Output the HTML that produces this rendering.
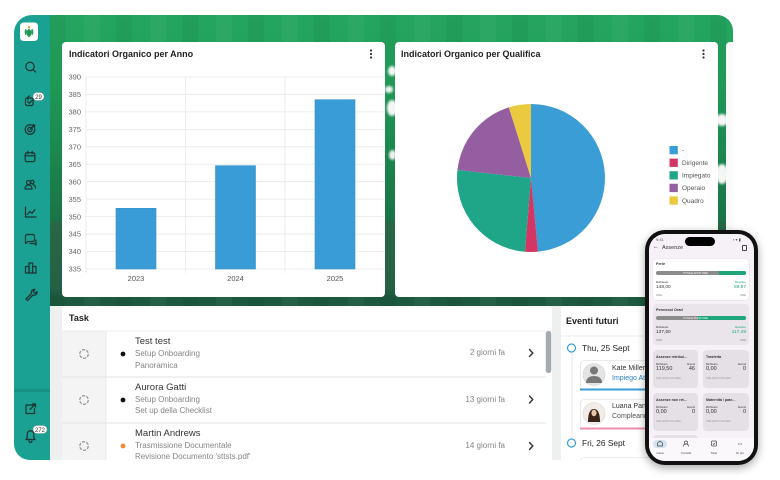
<!DOCTYPE html>
<html><head><meta charset="utf-8">
<style>
*{margin:0;padding:0;box-sizing:border-box}
html,body{width:780px;height:480px;overflow:hidden;background:#fff;font-family:"Liberation Sans",sans-serif}
.a{position:absolute}
.t{position:absolute;white-space:nowrap}
#app{position:absolute;left:0;top:0;width:780px;height:480px;clip-path:inset(15px 47px 20px 14px round 18px 16px 16px 16px)}
.card{position:absolute;background:#fff;border-radius:4px}
.nm{font-size:9.5px;line-height:11px;color:#333}
.sb{font-size:8px;line-height:10px;color:#858585}
.tm{font-size:8px;line-height:10px;color:#858585;text-align:right;width:90px}
.ph{font-family:"Liberation Sans",sans-serif;color:#333}
</style></head><body>
<div id="app">
  <!-- green header bg -->
  <div class="a" style="left:50px;top:15px;width:683px;height:291px;background:
    repeating-linear-gradient(90deg,rgba(0,0,0,.05) 0 16px,rgba(0,0,0,0) 16px 34px,rgba(255,255,255,.04) 34px 50px,rgba(0,0,0,0) 50px 66px),
    linear-gradient(180deg,#24a55f 0,#21a05a 25%,#1d9053 45%,#1b7a4a 70%,#2b6b4a 72%,#28664a 94%,#1b5a3e 97%,#1b5a3e 100%)"></div>
  <!-- white blobs -->
  <div class="a" style="left:388px;top:66px;width:8px;height:10px;border-radius:50%;background:#f4f7f5;filter:blur(1px)"></div>
  <div class="a" style="left:385px;top:86px;width:8px;height:7px;border-radius:50%;background:#eef3f0;filter:blur(1px)"></div>
  <div class="a" style="left:387px;top:100px;width:10px;height:16px;border-radius:50%;background:#f4f7f5;filter:blur(1px)"></div>
  <div class="a" style="left:389px;top:150px;width:7px;height:10px;border-radius:50%;background:#eef3f0;filter:blur(1px)"></div>
  <div class="a" style="left:716px;top:114px;width:12px;height:12px;border-radius:50%;background:#f4f7f5;filter:blur(1px)"></div>
  <div class="a" style="left:716px;top:164px;width:12px;height:20px;border-radius:50%;background:#f4f7f5;filter:blur(1px)"></div>
  <!-- bottom grey -->
  <div class="a" style="left:50px;top:306px;width:683px;height:160px;background:#eeefef"></div>
  <!-- sidebar -->
  <div class="a" style="left:14px;top:15px;width:36px;height:450px;background:#1ba193"></div>
  <div class="a" style="left:14px;top:389px;width:36px;height:3px;background:#179184"></div>

  <!-- cards -->
  <div class="card" style="left:62px;top:42px;width:323px;height:255px"></div>
  <div class="card" style="left:395px;top:42px;width:323px;height:255px"></div>
  <div class="card" style="left:726px;top:42px;width:12px;height:255px;background:#fafafa"></div>
  <div class="t" style="left:69px;top:49px;font-size:9px;line-height:10px;font-weight:bold;color:#222">Indicatori Organico per Anno</div>
  <div class="t" style="left:401px;top:49px;font-size:9px;line-height:10px;font-weight:bold;color:#222">Indicatori Organico per Qualifica</div>

  <div class="card" style="left:62px;top:306px;width:490px;height:170px;border-radius:3px"></div>
  <div class="card" style="left:561px;top:306px;width:110px;height:170px;border-radius:3px"></div>

  <svg class="a" style="left:0;top:0" width="780" height="480" viewBox="0 0 780 480">
    <!-- kebabs -->
    <g fill="#333"><circle cx="371" cy="50.5" r="1.1"/><circle cx="371" cy="54" r="1.1"/><circle cx="371" cy="57.5" r="1.1"/>
    <circle cx="703.5" cy="50.5" r="1.1"/><circle cx="703.5" cy="54" r="1.1"/><circle cx="703.5" cy="57.5" r="1.1"/></g>
    <!-- bar grid -->
    <g stroke="#e7e7e7" stroke-width="0.8">
      <line x1="86" x2="384" y1="77" y2="77"/><line x1="86" x2="384" y1="94.45" y2="94.45"/>
      <line x1="86" x2="384" y1="111.9" y2="111.9"/><line x1="86" x2="384" y1="129.35" y2="129.35"/>
      <line x1="86" x2="384" y1="146.8" y2="146.8"/><line x1="86" x2="384" y1="164.25" y2="164.25"/>
      <line x1="86" x2="384" y1="181.7" y2="181.7"/><line x1="86" x2="384" y1="199.15" y2="199.15"/>
      <line x1="86" x2="384" y1="216.6" y2="216.6"/><line x1="86" x2="384" y1="234.05" y2="234.05"/>
      <line x1="86" x2="384" y1="251.5" y2="251.5"/><line x1="86" x2="384" y1="269" y2="269"/>
      <line x1="86" x2="86" y1="77" y2="273"/><line x1="185.5" x2="185.5" y1="77" y2="273"/>
      <line x1="285" x2="285" y1="77" y2="273"/>
    </g>
    <g font-family="Liberation Sans, sans-serif" font-size="7.5" fill="#666" text-anchor="end">
      <text x="81" y="79.7">390</text><text x="81" y="97.1">385</text><text x="81" y="114.6">380</text>
      <text x="81" y="132">375</text><text x="81" y="149.5">370</text><text x="81" y="166.9">365</text>
      <text x="81" y="184.4">360</text><text x="81" y="201.8">355</text><text x="81" y="219.3">350</text>
      <text x="81" y="236.7">345</text><text x="81" y="254.2">340</text><text x="81" y="271.6">335</text>
    </g>
    <g fill="#3a9cd6" stroke="#3591c9" stroke-width="0.6">
      <rect x="116" y="208.3" width="40" height="60.7"/>
      <rect x="215.5" y="165.7" width="40" height="103.3"/>
      <rect x="315" y="99.7" width="40" height="169.3"/>
    </g>
    <g font-family="Liberation Sans, sans-serif" font-size="7.5" fill="#555" text-anchor="middle">
      <text x="136" y="281">2023</text><text x="235.5" y="281">2024</text><text x="335" y="281">2025</text>
    </g>
    <!-- pie -->
    <path d="M531,178 L531,104 A74,74 0 0 1 537.96,251.67 Z" fill="#3a9dd6"/>
    <path d="M531,178 L537.96,251.67 A74,74 0 0 1 524.94,251.75 Z" fill="#d33664"/>
    <path d="M531,178 L524.94,251.75 A74,74 0 0 1 457.43,170.01 Z" fill="#1fa688"/>
    <path d="M531,178 L457.43,170.01 A74,74 0 0 1 508.87,107.39 Z" fill="#955ea0"/>
    <path d="M531,178 L508.87,107.39 A74,74 0 0 1 531,104 Z" fill="#ebca3f"/>
    <g>
      <rect x="669.5" y="146" width="8.3" height="8.3" fill="#3a9dd6"/>
      <rect x="669.5" y="158.6" width="8.3" height="8.3" fill="#d33664"/>
      <rect x="669.5" y="171.2" width="8.3" height="8.3" fill="#1fa688"/>
      <rect x="669.5" y="183.8" width="8.3" height="8.3" fill="#955ea0"/>
      <rect x="669.5" y="196.4" width="8.3" height="8.3" fill="#ebca3f"/>
    </g>
    <g font-family="Liberation Sans, sans-serif" font-size="6.5" fill="#555">
      <text x="682" y="152.5">-</text><text x="682" y="165">Dirigente</text><text x="682" y="177.6">Impiegato</text>
      <text x="682" y="190.2">Operaio</text><text x="682" y="202.8">Quadro</text>
    </g>

    <!-- sidebar logo & icons -->
    <rect x="20" y="22.5" width="18" height="18.5" rx="3.5" fill="#fff"/>
    <g fill="#1f9a55"><ellipse cx="29" cy="33" rx="2.2" ry="4"/><ellipse cx="25.8" cy="32" rx="1.1" ry="3"/><ellipse cx="32.2" cy="32" rx="1.1" ry="3"/><circle cx="29" cy="27.3" r="1.2" fill="#c7a227"/></g>
    <g fill="none" stroke="#1b3533" stroke-width="1.25" stroke-linecap="round" stroke-linejoin="round">
      <circle cx="30" cy="66.5" r="4.2"/><line x1="33" y1="69.5" x2="35.5" y2="72"/>
      <rect x="25.5" y="98" width="7.5" height="7.5" rx="1.5"/><path d="M28 100 v-2.5 a1.5 1.5 0 0 1 1.5-1.5h0"/><path d="M27.8 101.8 l1.5 1.5 2.6-3"/>
      <circle cx="30" cy="129.5" r="4.8"/><circle cx="30" cy="129.5" r="2.2"/><path d="M30 129.5 l4.5-4.5 M33.5 124.5 v1.5 h1.5"/>
      <rect x="25.2" y="152.8" width="9.6" height="8.8" rx="1.6"/><line x1="25.2" y1="155.8" x2="34.8" y2="155.8"/><line x1="27.8" y1="151.3" x2="27.8" y2="153.6"/><line x1="32.2" y1="151.3" x2="32.2" y2="153.6"/>
      <circle cx="28.5" cy="182.5" r="2"/><path d="M25 189 c0-2.8 1.6-4 3.5-4 s3.5 1.2 3.5 4 z"/><circle cx="32.3" cy="182" r="1.7"/><path d="M33 184.7 c1.6.2 2.5 1.4 2.5 3.6"/>
      <path d="M25.5 207 v10 h10.5"/><path d="M27.3 214.5 l2.6-3 2 1.8 3-3.6"/>
      <path d="M25.5 236 a1.5 1.5 0 0 1 1.5-1.5 h6 a1.5 1.5 0 0 1 1.5 1.5 v4 a1.5 1.5 0 0 1-1.5 1.5 h-5 l-2.5 2 z"/><path d="M30 243.5 h4.5 l1.5 1.5 v-5"/>
      <rect x="29" y="263" width="3.6" height="10"/><rect x="25.5" y="266.5" width="3.5" height="6.5"/><rect x="32.6" y="266.5" width="3.4" height="6.5"/>
      <path d="M26 299 l5.5-5.5 a3 3 0 0 1 3.5-4 l-1.8 1.8 .8 1.2 1.2.8 1.8-1.8 a3 3 0 0 1-4 3.5 l-5.5 5.5 z"/>
      <path d="M33 405 h-7 v8.5 h8.5 v-5"/><path d="M30 409.5 l5.5-5.5 M32.5 404 h3 v3"/>
      <path d="M26 439.5 h9 l-1.2-2 v-3.5 a3.3 3.3 0 0 0-6.6 0 v3.5 z"/><path d="M29 441 a1.5 1.5 0 0 0 3 0"/>
    </g>
    <rect x="33" y="92.5" width="11" height="8" rx="4" fill="#fff" stroke="#888" stroke-width="0.4"/>
    <text x="38.5" y="98.8" font-family="Liberation Sans, sans-serif" font-size="6" fill="#333" text-anchor="middle">29</text>
    <rect x="33" y="425.5" width="14" height="8" rx="4" fill="#fff" stroke="#888" stroke-width="0.4"/>
    <text x="40" y="431.8" font-family="Liberation Sans, sans-serif" font-size="6" fill="#333" text-anchor="middle">272</text>

    <!-- task panel structure -->
    <rect x="62" y="331" width="44" height="135" fill="#f4f4f4"/>
    <line x1="106" y1="331" x2="106" y2="466" stroke="#e2e2e2" stroke-width="0.8"/>
    <line x1="62" y1="331" x2="552" y2="331" stroke="#e6e6e6" stroke-width="0.8"/>
    <line x1="62" y1="377" x2="546" y2="377" stroke="#e2e2e2" stroke-width="0.9"/>
    <line x1="62" y1="423" x2="546" y2="423" stroke="#e2e2e2" stroke-width="0.9"/>
    <rect x="545.8" y="331" width="5.5" height="42" rx="2.7" fill="#a4aab2"/>
    <g fill="none" stroke="#9a9a9a" stroke-width="1.3" stroke-dasharray="3.2 1.3">
      <circle cx="84" cy="354" r="4.3"/><circle cx="84" cy="400" r="4.3"/><circle cx="84" cy="446" r="4.3"/>
    </g>
    <circle cx="123" cy="354" r="2.4" fill="#111"/>
    <circle cx="123" cy="400" r="2.4" fill="#111"/>
    <circle cx="123" cy="446" r="2.4" fill="#f08a3c"/>
    <g fill="none" stroke="#333" stroke-width="1.4" stroke-linecap="round" stroke-linejoin="round">
      <path d="M529.5 349.5 l3.3 3.5 -3.3 3.5"/><path d="M529.5 396 l3.3 3.5 -3.3 3.5"/><path d="M529.5 442.5 l3.3 3.5 -3.3 3.5"/>
    </g>

    <!-- eventi -->
    <line x1="561" y1="336" x2="671" y2="336" stroke="#e6e6e6" stroke-width="0.8"/>
    <line x1="572" y1="353" x2="572" y2="438" stroke="#e0e0e0" stroke-width="0.8"/>
    <circle cx="571.5" cy="348" r="4" fill="#fff" stroke="#3a9dd6" stroke-width="1.2"/>
    <circle cx="571.5" cy="443" r="4" fill="#fff" stroke="#3a9dd6" stroke-width="1.2"/>
    <rect x="580.5" y="360.5" width="90" height="29.5" rx="4" fill="#fff" stroke="#e4e4e4" stroke-width="0.8"/>
    <rect x="580" y="388.5" width="90" height="2" fill="#3a9dd6"/>
    <rect x="580.5" y="399.5" width="90" height="29.5" rx="4" fill="#fff" stroke="#e4e4e4" stroke-width="0.8"/>
    <rect x="580" y="427.5" width="90" height="2" fill="#ec8fae"/>
    <rect x="580.5" y="457.5" width="90" height="20" rx="4" fill="#fff" stroke="#e4e4e4" stroke-width="0.8"/>
    <circle cx="594" cy="374.5" r="11" fill="#e4e4e4" stroke="#d0d0d0" stroke-width="0.6"/>
    <circle cx="594" cy="370.5" r="4" fill="#777"/>
    <path d="M586 383 c0-5 3.5-7 8-7 s8 2 8 7 z" fill="#777"/>
    <circle cx="594" cy="413.5" r="11" fill="#f2ece8" stroke="#d6d6d6" stroke-width="0.6"/>
    <path d="M588 422 c0-6 1-13 6-13 s6 7 6 13 z" fill="#3a2418"/>
    <ellipse cx="594" cy="413" rx="2.6" ry="3.2" fill="#e9c3a8"/>
  </svg>

  <!-- task texts -->
  <div class="t" style="left:69px;top:313px;font-size:9px;line-height:10px;font-weight:bold;color:#222">Task</div>
  <div class="t nm" style="left:135px;top:336px">Test test</div>
  <div class="t sb" style="left:135px;top:349px">Setup Onboarding</div>
  <div class="t sb" style="left:135px;top:360.5px">Panoramica</div>
  <div class="t tm" style="left:415px;top:348px">2 giorni fa</div>

  <div class="t nm" style="left:135px;top:382.2px">Aurora Gatti</div>
  <div class="t sb" style="left:135px;top:394.7px">Setup Onboarding</div>
  <div class="t sb" style="left:135px;top:406px">Set up della Checklist</div>
  <div class="t tm" style="left:415px;top:394.7px">13 giorni fa</div>

  <div class="t nm" style="left:135px;top:428.2px">Martin Andrews</div>
  <div class="t sb" style="left:135px;top:441px">Trasmissione Documentale</div>
  <div class="t sb" style="left:135px;top:452px">Revisione Documento 'sttsts.pdf'</div>
  <div class="t tm" style="left:415px;top:441px">14 giorni fa</div>

  <div class="t" style="left:566px;top:316px;font-size:9px;line-height:10px;font-weight:bold;color:#222">Eventi futuri</div>
  <div class="t" style="left:582px;top:343px;font-size:8.3px;line-height:10px;color:#222">Thu, 25 Sept</div>
  <div class="t" style="left:582px;top:438px;font-size:8.3px;line-height:10px;color:#222">Fri, 26 Sept</div>
  <div class="t" style="left:612px;top:365px;font-size:7px;line-height:8px;color:#333">Kate Miller</div>
  <div class="t" style="left:612px;top:375px;font-size:7px;line-height:8px;color:#2a7fc0">Impiego Attivo</div>
  <div class="t" style="left:612px;top:403px;font-size:7px;line-height:8px;color:#333">Luana Panetta</div>
  <div class="t" style="left:612px;top:413px;font-size:7px;line-height:8px;color:#555">Compleanno</div>
</div>

<!-- phone -->
<div class="a" style="left:645px;top:230px;width:113px;height:235px;border-radius:20px;background:#111;box-shadow:0 3px 9px rgba(0,0,0,.35)"></div>
<div class="a ph" style="left:649px;top:234px;width:105px;height:227px;border-radius:16px;background:#f5f1f7;overflow:hidden">
  <div class="a" style="left:36px;top:3px;width:30px;height:9px;border-radius:5px;background:#000"></div>
  <div class="t" style="left:7px;top:3px;font-size:4px;color:#555">9:41</div>
  <div class="t" style="left:84px;top:3px;font-size:4px;color:#555">▪ ▾ ▮</div>
  <div class="t" style="left:4px;top:10px;font-size:6px;line-height:7px;color:#333">←</div>
  <div class="t" style="left:13px;top:10.5px;font-size:5.5px;line-height:7px;color:#333">Assenze</div>
  <div class="a" style="left:93px;top:11px;width:5px;height:5.5px;border:0.8px solid #444;border-radius:1px"></div>

  <div class="a" style="left:4px;top:25px;width:96px;height:41px;border-radius:4px;background:#fff;box-shadow:0 0 1px rgba(0,0,0,.2)">
    <div class="t" style="left:3px;top:3px;font-size:3.8px;font-weight:bold">Ferie</div>
    <div class="a" style="left:3px;top:12px;width:90px;height:4px;border-radius:2px;background:#8c8c8c"></div>
    <div class="a" style="left:66px;top:12px;width:27px;height:4px;border-radius:0 2px 2px 0;background:#1ea67a"></div>
    <div class="t" style="left:30px;top:12.5px;font-size:2.6px;color:#fff">TOTALE 207.57 ORE</div>
    <div class="t" style="left:3px;top:21px;font-size:3px">Richiesto</div>
    <div class="t" style="left:3px;top:26px;font-size:4.8px">148,00</div>
    <div class="t" style="left:3px;top:33.5px;font-size:2.8px;color:#888">ORE</div>
    <div class="t" style="right:3px;top:21px;font-size:3px;color:#1ea67a">Residuo</div>
    <div class="t" style="right:3px;top:26px;font-size:4.8px;color:#1ea67a">59,57</div>
    <div class="t" style="right:3px;top:33.5px;font-size:2.8px;color:#888">ORE</div>
  </div>
  <div class="a" style="left:4px;top:70px;width:96px;height:41px;border-radius:4px;background:#e9e5eb">
    <div class="t" style="left:3px;top:4px;font-size:3.8px;font-weight:bold">Permessi Orari</div>
    <div class="a" style="left:3px;top:12px;width:90px;height:4px;border-radius:2px;background:#8c8c8c"></div>
    <div class="a" style="left:45px;top:12px;width:48px;height:4px;border-radius:0 2px 2px 0;background:#1ea67a"></div>
    <div class="t" style="left:30px;top:12.5px;font-size:2.6px;color:#fff">TOTALE 254.99 ORE</div>
    <div class="t" style="left:3px;top:21px;font-size:3px">Richiesto</div>
    <div class="t" style="left:3px;top:26px;font-size:4.8px">137,50</div>
    <div class="t" style="left:3px;top:33.5px;font-size:2.8px;color:#888">ORE</div>
    <div class="t" style="right:3px;top:21px;font-size:3px;color:#1ea67a">Residuo</div>
    <div class="t" style="right:3px;top:26px;font-size:4.8px;color:#1ea67a">117,49</div>
    <div class="t" style="right:3px;top:33.5px;font-size:2.8px;color:#888">ORE</div>
  </div>

  <div class="a" style="left:4px;top:116px;width:45px;height:38px;border-radius:4px;background:#e4e0e6">
    <div class="t" style="left:3px;top:5px;font-size:3.6px;font-weight:bold">Assenze retribui...</div>
    <div class="t" style="left:3px;top:12px;font-size:2.8px">Richiesto</div><div class="t" style="right:3px;top:12px;font-size:2.8px">Eventi</div>
    <div class="t" style="left:3px;top:16px;font-size:5.5px">119,50</div><div class="t" style="right:3px;top:16px;font-size:5.5px">46</div>
    <div class="t" style="left:3px;top:27px;font-size:2.4px;color:#999">ORE (ANNO SOLARE)</div>
  </div>
  <div class="a" style="left:54px;top:116px;width:46px;height:38px;border-radius:4px;background:#e4e0e6">
    <div class="t" style="left:3px;top:5px;font-size:3.6px;font-weight:bold">Trasferta</div>
    <div class="t" style="left:3px;top:12px;font-size:2.8px">Richiesto</div><div class="t" style="right:3px;top:12px;font-size:2.8px">Eventi</div>
    <div class="t" style="left:3px;top:16px;font-size:5.5px">0,00</div><div class="t" style="right:3px;top:16px;font-size:5.5px">0</div>
    <div class="t" style="left:3px;top:27px;font-size:2.4px;color:#999">ORE (ANNO SOLARE)</div>
  </div>
  <div class="a" style="left:4px;top:159px;width:45px;height:38px;border-radius:4px;background:#e4e0e6">
    <div class="t" style="left:3px;top:5px;font-size:3.6px;font-weight:bold">Assenze non ret...</div>
    <div class="t" style="left:3px;top:12px;font-size:2.8px">Richiesto</div><div class="t" style="right:3px;top:12px;font-size:2.8px">Eventi</div>
    <div class="t" style="left:3px;top:16px;font-size:5.5px">0,00</div><div class="t" style="right:3px;top:16px;font-size:5.5px">0</div>
    <div class="t" style="left:3px;top:27px;font-size:2.4px;color:#999">ORE (ANNO SOLARE)</div>
  </div>
  <div class="a" style="left:54px;top:159px;width:46px;height:38px;border-radius:4px;background:#e4e0e6">
    <div class="t" style="left:3px;top:5px;font-size:3.6px;font-weight:bold">Maternità / pate...</div>
    <div class="t" style="left:3px;top:12px;font-size:2.8px">Richiesto</div><div class="t" style="right:3px;top:12px;font-size:2.8px">Eventi</div>
    <div class="t" style="left:3px;top:16px;font-size:5.5px">0,00</div><div class="t" style="right:3px;top:16px;font-size:5.5px">0</div>
    <div class="t" style="left:3px;top:27px;font-size:2.4px;color:#999">ORE (ANNO SOLARE)</div>
  </div>
  <div class="a" style="left:4px;top:201px;width:45px;height:10px;border-radius:4px;background:#e4e0e6"></div>

  <div class="a" style="left:0;top:204px;width:105px;height:23px;background:#fbf8fb">
    <div class="a" style="left:4px;top:2px;width:14px;height:8px;border-radius:4px;background:#d5e3f0"></div>
    <svg class="a" style="left:0;top:0" width="105" height="23" viewBox="0 0 105 23">
      <g fill="none" stroke="#444" stroke-width="0.7">
        <path d="M8.5 8 v-3 l2.5-2 2.5 2 v3 z"/>
        <circle cx="37" cy="4.5" r="1.5"/><path d="M34.5 8.5 c0-2 1.2-2.6 2.5-2.6 s2.5.6 2.5 2.6"/>
        <rect x="62.5" y="3" width="5" height="5" rx="1"/><path d="M63.8 5.5 l1 1 1.6-1.8"/>
      </g>
      <g fill="#444"><circle cx="89.5" cy="6" r=".5"/><circle cx="91" cy="6" r=".5"/><circle cx="92.5" cy="6" r=".5"/></g>
      <g font-family="Liberation Sans, sans-serif" font-size="3" fill="#444" text-anchor="middle">
        <text x="11" y="16">Casa</text><text x="37" y="16">Contatti</text><text x="65" y="16">Task</text><text x="91" y="16">Di più</text>
      </g>
    </svg>
  </div>
</div>
</body></html>
